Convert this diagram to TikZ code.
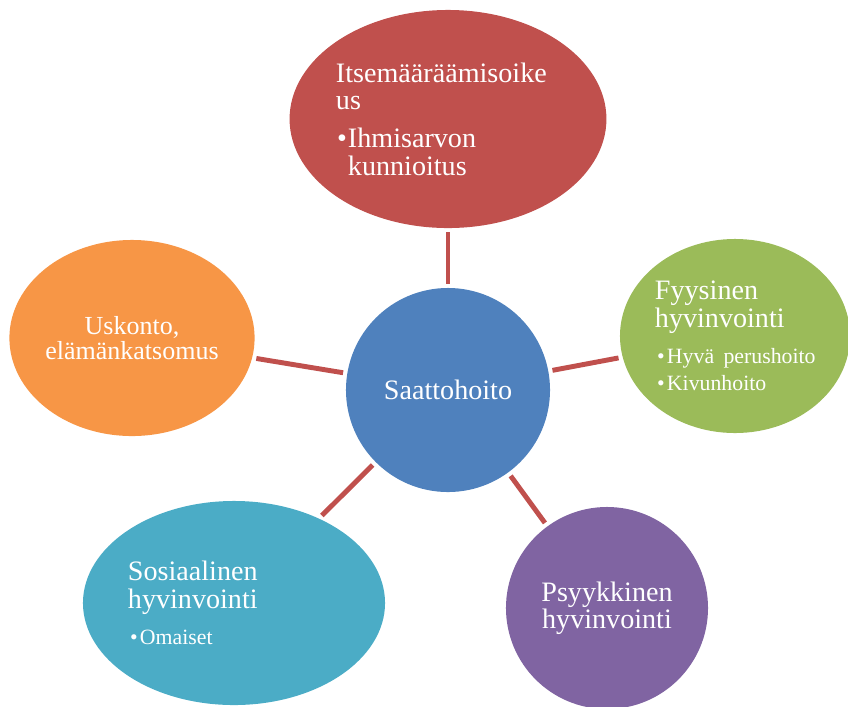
\documentclass[tikz,border=0pt]{standalone}
\usepackage{fontspec}
\setmainfont{Liberation Serif}
\usetikzlibrary{shapes.geometric}

\definecolor{hoitored}{HTML}{C0504D}
\definecolor{hoitoblue}{HTML}{4F81BD}
\definecolor{hoitogreen}{HTML}{9BBB59}
\definecolor{hoitoorange}{HTML}{F79646}
\definecolor{hoitoteal}{HTML}{4BACC6}
\definecolor{hoitopurple}{HTML}{8064A2}

\newcommand{\headfont}{\fontsize{20}{19.5}\selectfont}
\newcommand{\subfont}{\fontsize{15.5}{18.5}\selectfont}
\newcommand{\blt}{\makebox[0.3cm][c]{\textbullet}}

\begin{document}
\begin{tikzpicture}[x=0.025cm, y=-0.025cm,
  bubble/.style={inner sep=0pt, text=white, font=\headfont},
  link/.style={draw=hoitored, line width=3.5pt, shorten <=0.1cm, shorten >=0.1cm}]
  \clip (0,0) rectangle (848,706);
  % Centre
  \node[bubble, circle, fill=hoitoblue, minimum size=5.1cm,
        font=\fontsize{20}{20}\selectfont] (saatto) at (448,390) {Saattohoito};
  % Bubbles round the centre
  \node[bubble, ellipse, fill=hoitored, minimum width=7.9cm, minimum height=5.45cm,
        text width=5.6cm, align=left] (itse) at (448,119)
        {Itsemääräämisoike\\us\\[7.5pt]\blt Ihmisarvon\\\hspace*{0.3cm}kunnioitus};
  \node[bubble, ellipse, fill=hoitogreen, minimum width=5.75cm, minimum height=4.85cm,
        text width=4cm, align=left] (fyys) at (735,336)
        {Fyysinen\\hyvinvointi\par\subfont\vspace{7pt}\noindent\blt\mbox{Hyvä perushoito}\\\blt Kivunhoito};
  \node[bubble, ellipse, fill=hoitoorange, minimum width=6.1cm, minimum height=4.9cm,
        align=center, font=\fontsize{18.5}{17.8}\selectfont] (usko) at (132,338)
        {Uskonto,\\elämänkatsomus};
  \node[bubble, ellipse, fill=hoitoteal, minimum width=7.55cm, minimum height=5.1cm,
        text width=5.3cm, align=left] (sosi) at (234,603)
        {Sosiaalinen\\hyvinvointi\par\subfont\vspace{6.5pt}\noindent\blt Omaiset};
  \node[bubble, circle, fill=hoitopurple, minimum size=5.05cm, align=center,
        font=\fontsize{20}{17.8}\selectfont] (psyk) at (607,608)
        {Psyykkinen\\hyvinvointi};
  % Links
  \draw[link] (itse) -- (saatto);
  \draw[link] (fyys) -- (saatto);
  \draw[link] (usko) -- (saatto);
  \draw[link] (sosi) -- (saatto);
  \draw[link] (psyk) -- (saatto);
\end{tikzpicture}
\end{document}
